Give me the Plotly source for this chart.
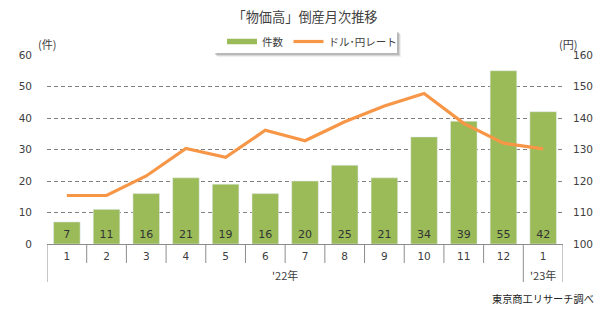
import plotly.graph_objects as go

years = ["'22年"] * 12 + ["'23年"]
months = ["1", "2", "3", "4", "5", "6", "7", "8", "9", "10", "11", "12", "1"]
counts = [7, 11, 16, 21, 19, 16, 20, 25, 21, 34, 39, 55, 42]
usd_jpy = [115.4, 115.4, 121.6, 130.3, 127.5, 136.1, 132.8, 138.8, 143.8, 147.8, 138.3, 132.0, 130.2]

GREEN = "#9BBB59"
ORANGE = "#F79646"
TXT = "#404040"
AXC = "#8c8c8c"
FONT = "Noto Sans CJK JP"
NUMFONT = "DejaVu Sans"

# unique category keys, displayed with month labels
keys = [f"{y}-{m}" for y, m in zip(years, months)]
n = len(keys)

fig = go.Figure()
fig.add_trace(go.Bar(
    x=keys, y=counts, marker_color=GREEN, showlegend=False,
    text=[str(v) for v in counts], textposition="inside", insidetextanchor="start",
    textangle=0, constraintext="none",
    textfont=dict(family=NUMFONT, size=11, color="#333333"),
    hoverinfo="skip",
))
fig.add_trace(go.Scatter(
    x=keys, y=usd_jpy, mode="lines", yaxis="y2", showlegend=False,
    line=dict(color=ORANGE, width=3.2), hoverinfo="skip",
))
# legend-only entries (Excel style line swatches)
fig.add_trace(go.Scatter(x=[None], y=[None], mode="lines", name="件数",
                         line=dict(color=GREEN, width=5.5)))
fig.add_trace(go.Scatter(x=[None], y=[None], mode="lines", name="ドル･円レート",
                         line=dict(color=ORANGE, width=3.2)))

# axis decorations: month separators and year-group dividers
MONTH_TICK = -19 / 189
DIVIDER = -38 / 189
shapes = []
group_bounds = [-0.5]
for i in range(1, n):
    if years[i] != years[i - 1]:
        group_bounds.append(i - 0.5)
group_bounds.append(n - 0.5)
for i in range(1, n):
    b = i - 0.5
    if b in group_bounds:
        continue
    shapes.append(dict(type="line", xref="x", yref="paper", x0=b, x1=b, y0=0, y1=MONTH_TICK,
                       line=dict(color=AXC, width=1)))
for b in group_bounds:
    shapes.append(dict(type="line", xref="x", yref="paper", x0=b, x1=b, y0=0, y1=DIVIDER,
                       line=dict(color=AXC, width=1)))

# legend box with drop shadow
def px_x(p):
    return (p - 47) / 516

def px_y(p):
    return 1 + (55 - p) / 189

for off, op in [(4, 0.06), (3, 0.10), (2, 0.14)]:
    shapes.append(dict(type="rect", xref="paper", yref="paper",
                       x0=px_x(213 + off), x1=px_x(397 + off), y0=px_y(53 + off), y1=px_y(30 + off),
                       fillcolor=f"rgba(0,0,0,{op})", line=dict(width=0), layer="below"))
shapes.append(dict(type="rect", xref="paper", yref="paper",
                   x0=px_x(213), x1=px_x(397), y0=px_y(53), y1=px_y(30),
                   fillcolor="white", line=dict(width=0), layer="below"))

# year labels centred on their groups
annotations = []
for gi in range(len(group_bounds) - 1):
    a, b = group_bounds[gi], group_bounds[gi + 1]
    idx = int(a + 0.5)
    annotations.append(dict(text=years[idx], xref="x", yref="paper", x=(a + b) / 2,
                            y=-(275 - 244) / 189, xanchor="center", yanchor="middle",
                            showarrow=False, font=dict(family=FONT, size=11, color=TXT)))

annotations += [
    dict(text="(件)", xref="paper", yref="paper", x=0.0, y=px_y(44),
         xanchor="center", yanchor="middle", showarrow=False,
         font=dict(family=FONT, size=11, color=TXT)),
    dict(text="(円)", xref="paper", yref="paper", x=px_x(568), y=px_y(44),
         xanchor="center", yanchor="middle", showarrow=False,
         font=dict(family=FONT, size=11, color=TXT)),
    dict(text="東京商工リサーチ調べ", xref="paper", yref="paper", x=px_x(596), y=px_y(298),
         xanchor="right", yanchor="middle", showarrow=False,
         font=dict(family=FONT, size=10.2, color="#222222")),
]

fig.update_layout(
    width=610, height=309,
    margin=dict(l=47, r=47, t=55, b=65),
    paper_bgcolor="white", plot_bgcolor="white",
    font=dict(family=FONT, size=11, color=TXT),
    bargap=0.33,
    title=dict(text="「物価高」倒産月次推移", x=0.5, xanchor="center",
               y=1 - 17 / 309, yanchor="middle",
               font=dict(family=FONT, size=13.2, color=TXT)),
    legend=dict(orientation="h", x=px_x(222), xanchor="left", y=px_y(27), yanchor="top",
                bgcolor="rgba(0,0,0,0)", borderwidth=0,
                font=dict(family=FONT, size=10.5, color=TXT)),
    xaxis=dict(
        type="category", showline=True, linecolor=AXC, linewidth=1,
        tickmode="array", tickvals=keys, ticktext=months, ticks="",
        tickfont=dict(family=NUMFONT, size=10.5, color=TXT),
        ticklabelstandoff=2, showgrid=False, range=[-0.5, n - 0.5],
    ),
    yaxis=dict(
        range=[0, 60], dtick=10, showgrid=True, gridcolor="#7f7f7f",
        griddash="4px,3px", gridwidth=1, zeroline=False,
        tickfont=dict(family=NUMFONT, size=10.5, color=TXT),
        ticks="", ticklabelstandoff=14,
    ),
    yaxis2=dict(
        range=[100, 160], dtick=10, overlaying="y", side="right",
        showgrid=False, zeroline=False,
        tickfont=dict(family=NUMFONT, size=10.5, color=TXT),
        ticks="", ticklabelstandoff=9,
    ),
    annotations=annotations,
    shapes=shapes,
)

fig.write_html("out.html")
